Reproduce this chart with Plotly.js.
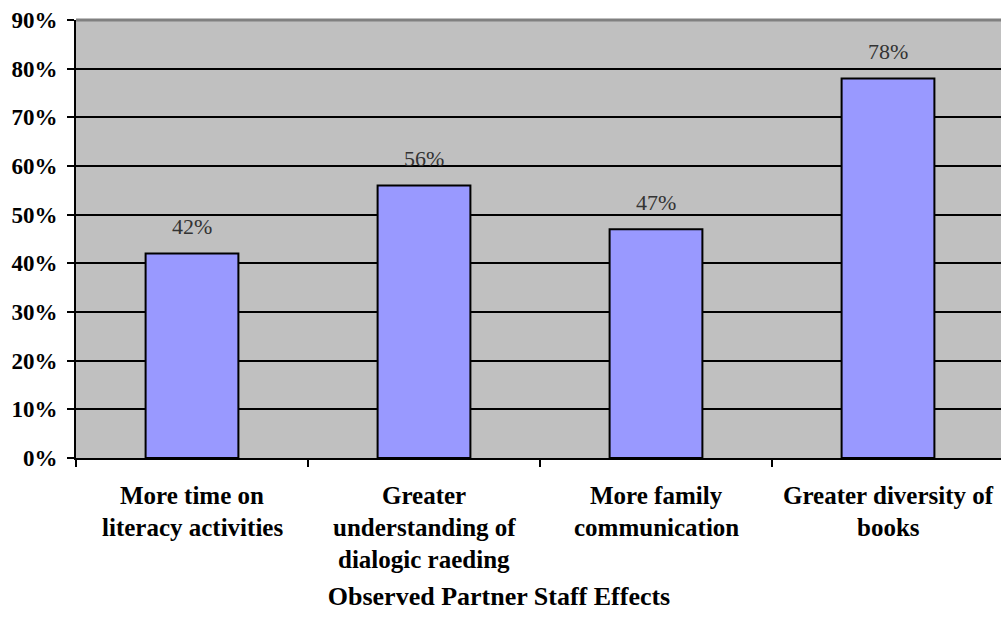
<!DOCTYPE html>
<html>
<head>
<meta charset="utf-8">
<script src="https://cdn.plot.ly/plotly-3.0.1.min.js"></script>
<style>
  html, body { margin: 0; padding: 0; background: #ffffff; overflow: hidden; }
  #chart { width: 1010px; height: 623px; }
</style>
</head>
<body>
<div id="chart"></div>
<script>
// Category labels, one entry per wrapped line
const labelLines = [
  ["More time on", "literacy activities"],
  ["Greater", "understanding of", "dialogic raeding"],
  ["More family", "communication"],
  ["Greater diversity of", "books"]
];
const categories = labelLines.map(l => l.join(" "));
// Share of partner staff reporting each effect (%)
const values = [42, 56, 47, 78];
const valueLabels = values.map(v => v + "%");
const yTickVals = [0, 10, 20, 30, 40, 50, 60, 70, 80, 90];
const chartTitle = "Observed Partner Staff Effects";

const serif = "'Liberation Serif', 'DejaVu Serif', serif";

const trace = {
  type: "bar",
  x: categories,
  y: values,
  width: 0.4,
  marker: { color: "#9999FF", line: { color: "#000000", width: 2 } },
  hoverinfo: "skip"
};

const annotations = [];
// value labels above each bar
categories.forEach((c, i) => {
  annotations.push({
    x: c, y: values[i], xref: "x", yref: "y",
    text: valueLabels[i], showarrow: false,
    yanchor: "middle", yshift: 27,
    font: { family: serif, size: 22, color: "#333333" }
  });
});
// wrapped category labels under the axis
labelLines.forEach((lines, i) => {
  lines.forEach((line, j) => {
    annotations.push({
      x: categories[i], y: 0, xref: "x", yref: "paper",
      text: "<b>" + line + "</b>", showarrow: false,
      yanchor: "middle", yshift: -(37 + j * 32),
      font: { family: serif, size: 25, color: "#000000" }
    });
  });
});

const layout = {
  width: 1010,
  height: 623,
  margin: { l: 76, r: 6, t: 20, b: 165 },
  paper_bgcolor: "#ffffff",
  plot_bgcolor: "#C0C0C0",
  showlegend: false,
  font: { family: serif },
  title: {
    text: "<b>" + chartTitle + "</b>",
    xref: "container", yref: "container",
    x: 499 / 1010, y: 1 - 596 / 623,
    xanchor: "center", yanchor: "middle",
    font: { family: serif, size: 26, color: "#000000" }
  },
  xaxis: {
    type: "category",
    showticklabels: false,
    showline: true, linecolor: "#000000", linewidth: 2,
    ticks: "outside", tickson: "boundaries", ticklen: 7, tickwidth: 2, tickcolor: "#000000",
    showgrid: false, zeroline: false,
    range: [-0.5, 3.5]
  },
  yaxis: {
    range: [0, 90],
    tickvals: yTickVals,
    ticktext: yTickVals.map(v => "<b>" + v + "%</b>"),
    showline: true, linecolor: "#000000", linewidth: 2,
    ticks: "outside", ticklen: 7, tickwidth: 2, tickcolor: "#000000",
    ticklabelstandoff: 5,
    showgrid: true, gridcolor: "#000000", gridwidth: 2,
    zeroline: false,
    tickfont: { family: serif, size: 23, color: "#000000" }
  },
  shapes: [{
    type: "line", xref: "paper", yref: "paper",
    x0: 0, x1: 1, y0: 1, y1: 1,
    line: { color: "#808080", width: 3 }
  }],
  annotations: annotations
};

Plotly.newPlot("chart", [trace], layout, { displayModeBar: false, staticPlot: true });
</script>
</body>
</html>
